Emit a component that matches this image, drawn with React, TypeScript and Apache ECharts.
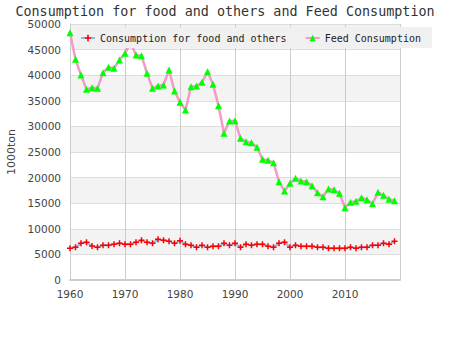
import React, { useEffect, useRef } from "react";
import * as echarts from "echarts";

const years: number[] = [];
for (let y = 1960; y <= 2019; y++) years.push(y);

const foodValues = [
  6190, 6380, 7160, 7360, 6640, 6380, 6770, 6770, 6970, 7160,
  6970, 6970, 7360, 7750, 7360, 7160, 7940, 7750, 7550, 7160,
  7680, 6970, 6770, 6380, 6770, 6380, 6580, 6580, 7160, 6770,
  7160, 6380, 6970, 6770, 6970, 6970, 6580, 6380, 7160, 7360,
  6380, 6770, 6580, 6580, 6580, 6380, 6380, 6190, 6190, 6190,
  6190, 6380, 6190, 6380, 6380, 6770, 6770, 7160, 6970, 7550,
];

const feedValues = [
  48300, 43100, 40040, 37240, 37560, 37440, 40500, 41540, 41340, 42970,
  44270, 46350, 43950, 43810, 40360, 37440, 37890, 38090, 41020, 36910,
  34700, 33200, 37760, 37890, 38600, 40690, 38210, 34050, 28650, 31050,
  31120, 27670, 27020, 26820, 25910, 23570, 23370, 22920, 19200, 17380,
  18880, 19860, 19340, 19200, 18420, 17060, 16280, 17770, 17640, 16930,
  14120, 15170, 15370, 16080, 15690, 14900, 17120, 16540, 15760, 15490,
];

const seriesNames = ["Consumption for food and others", "Feed Consumption"];
const yTicks = { min: 0, max: 50000, interval: 5000 };
const xTicks = { min: 1960, max: 2020, interval: 10 };

const plusPath =
  "path://M3,0 L5,0 L5,3 L8,3 L8,5 L5,5 L5,8 L3,8 L3,5 L0,5 L0,3 L3,3 Z";

export default function App() {
  const ref = useRef<HTMLDivElement>(null);
  useEffect(() => {
    if (!ref.current) return;
    const chart = echarts.init(ref.current, undefined, { renderer: "svg" });
    const mono = "DejaVu Sans Mono";
    chart.setOption({
      animation: false,
      backgroundColor: "#fff",
      title: {
        text: "Consumption for food and others and Feed Consumption",
        left: "center",
        top: 0,
        textStyle: {
          fontFamily: mono,
          fontSize: 13.4,
          fontWeight: "normal",
          color: "#333",
        },
      },
      legend: {
        top: 27,
        left: 77,
        backgroundColor: "#f0f0f0",
        padding: [6, 11, 5, 3],
        itemGap: 18,
        itemWidth: 14,
        itemHeight: 8,
        textStyle: { fontFamily: mono, fontSize: 10, color: "#222" },
        data: seriesNames,
      },
      grid: { left: 70, right: 50, top: 24, bottom: 70, outerBoundsMode: "none" },
      xAxis: {
        type: "value",
        min: xTicks.min,
        max: xTicks.max,
        interval: xTicks.interval,
        axisLine: { show: true, lineStyle: { color: "#ccc", width: 2 } },
        axisTick: { show: false },
        axisLabel: {
          color: "#444",
          fontFamily: "DejaVu Sans",
          fontSize: 10.5,
          margin: 8,
          formatter: (v: number) => (v === 2020 ? "" : String(v)),
        },
        splitLine: { show: true, lineStyle: { color: "#ccc", width: 1 } },
      },
      yAxis: {
        type: "value",
        min: yTicks.min,
        max: yTicks.max,
        interval: yTicks.interval,
        name: "1000ton",
        nameLocation: "middle",
        nameGap: 50,
        nameTextStyle: { fontFamily: "DejaVu Sans", fontSize: 11, color: "#444" },
        axisLine: { show: true, lineStyle: { color: "#ccc", width: 1 } },
        axisTick: { show: false },
        axisLabel: {
          color: "#444",
          fontFamily: "DejaVu Sans",
          fontSize: 10.5,
          margin: 9,
          formatter: (v: number) => String(v),
        },
        splitLine: { show: true, lineStyle: { color: "#ddd", width: 1 } },
        splitArea: { show: true, areaStyle: { color: ["#ffffff", "#f3f3f3"] } },
      },
      series: [
        {
          name: seriesNames[0],
          type: "line",
          data: years.map((y, i) => [y, foodValues[i]]),
          symbol: plusPath,
          symbolSize: 6,
          itemStyle: { color: "#ff0000" },
          lineStyle: { color: "#8fb8e8", width: 2 },
          z: 3,
        },
        {
          name: seriesNames[1],
          type: "line",
          data: years.map((y, i) => [y, feedValues[i]]),
          symbol: "triangle",
          symbolSize: 7,
          itemStyle: { color: "#00ff00" },
          lineStyle: { color: "#f49ac8", width: 2.5 },
          z: 3,
        },
      ],
    });
    return () => chart.dispose();
  }, []);
  return (
    <div
      ref={ref}
      style={{ position: "absolute", left: 0, top: 0, width: 450, height: 350 }}
    />
  );
}
